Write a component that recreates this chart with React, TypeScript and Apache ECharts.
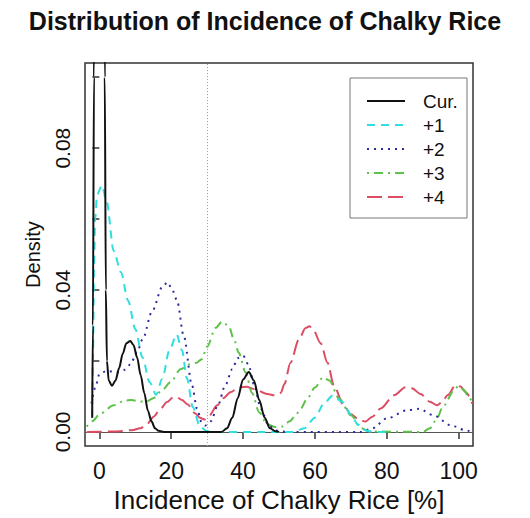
import { useEffect, useRef } from "react";
import * as echarts from "echarts";

// Axis ticks and labelled values
const xTicks = [0, 20, 40, 60, 80, 100];
const yTicks = [0, 0.02, 0.04, 0.06, 0.08, 0.1];
const yLabelTicks = [0, 0.04, 0.08];
const thresholdX = 30;

// Kernel density curves: [incidence %, density]
const curDensity = [
  [-2, 0.004], [-1.8, 0.03], [-1.5, 0.1], [-1.2, 0.2], [-0.8, 0.33], [-0.4, 0.42], [0, 0.45],
  [0.4, 0.42], [0.8, 0.33], [1.2, 0.2], [1.5, 0.1], [1.8, 0.04], [2.1, 0.02], [2.6, 0.0145],
  [3.5, 0.013], [4.5, 0.0145], [5.5, 0.018], [6.5, 0.022], [7.5, 0.025], [8.6, 0.0256],
  [9.5, 0.0245], [10.5, 0.021], [11.5, 0.016], [12.5, 0.011], [13.5, 0.006], [14.5, 0.003],
  [15.5, 0.001], [16.5, 0.0003], [18, 0], [34, 0], [35.5, 0.001], [37, 0.004], [38.5, 0.0095],
  [40, 0.0148], [41.6, 0.0169], [43, 0.0145], [44.5, 0.009], [46, 0.004], [47.5, 0.001],
  [49, 0.0002], [50, 0],
];
const plus1Density = [
  [-2, 0.004], [-1.8, 0.02], [-1.5, 0.045], [-1.2, 0.06], [-0.6, 0.067], [0.7, 0.0695],
  [2, 0.065], [4, 0.051], [6, 0.045], [8, 0.037], [10, 0.029], [12, 0.021], [14, 0.014],
  [15.8, 0.0105], [17.5, 0.015], [19.5, 0.023], [21.5, 0.0275], [23, 0.023], [24.4, 0.015],
  [26, 0.007], [28, 0.0015], [30, 0.0002], [32, 0], [54, 0], [57, 0.001], [60, 0.004],
  [62.5, 0.008], [65, 0.0103], [67.5, 0.0085], [70, 0.005], [72, 0.002], [74, 0.0005],
  [76, 0], [80, 0],
];
const plus2Density = [
  [-2.2, 0.008], [-1, 0.013], [0, 0.0163], [2, 0.0172], [5, 0.0168], [7, 0.0175], [8.6, 0.019],
  [10.5, 0.0225], [12, 0.026], [14.7, 0.034], [17.5, 0.0408], [19, 0.0422], [20.3, 0.04],
  [21.6, 0.0371], [23.5, 0.027], [25.8, 0.013], [27.2, 0.0065], [28.5, 0.0025], [29.5, 0.0018],
  [31, 0.003], [33, 0.0075], [35, 0.013], [37, 0.0177], [38.5, 0.0208], [40, 0.0215],
  [41.5, 0.019], [43, 0.0135], [45, 0.0065], [47, 0.002], [49, 0.0004], [52, 0], [73, 0],
  [76, 0.001], [80, 0.0038], [85.7, 0.0061], [89, 0.0065], [93, 0.0047], [97.8, 0.0019],
  [101.5, 0.0006], [103, 0.0002],
];
const plus3Density = [
  [-3.5, 0.0015], [-2, 0.003], [0.3, 0.0052], [4, 0.0075], [7, 0.0088], [9, 0.009], [11, 0.0086],
  [13, 0.0085], [15, 0.0095], [17.5, 0.0118], [19.8, 0.014], [22.6, 0.0177], [25, 0.019],
  [27, 0.0195], [28.5, 0.0205], [30, 0.024], [32.3, 0.0293], [34.2, 0.0311], [36, 0.0298],
  [37.5, 0.026], [38.8, 0.0223], [40.7, 0.0168], [42.5, 0.011], [44.5, 0.0055], [46.7, 0.0022],
  [49, 0.0014], [51, 0.0015], [53, 0.003], [54.5, 0.0045], [56, 0.0065], [57.8, 0.0093],
  [60, 0.0125], [62.3, 0.0154], [64, 0.0145], [66.7, 0.0094], [70, 0.0047], [73, 0.001],
  [75, 0.0001], [90, 0], [92, 0.001], [93.5, 0.003], [95.9, 0.0075], [98.7, 0.0117],
  [100, 0.013], [101.5, 0.0118], [102.5, 0.0103], [104, 0.0078],
];
const plus4Density = [
  [-3.5, 0], [5, 0.0001], [9, 0.0005], [11.4, 0.001], [13.5, 0.0025], [15.1, 0.0043],
  [17, 0.0065], [18.8, 0.0084], [20.5, 0.0097], [21.5, 0.0098], [23, 0.009], [24.5, 0.0078],
  [26.7, 0.0052], [28, 0.004], [29.2, 0.0035], [30.5, 0.0045], [32.8, 0.0075], [34.5, 0.0095],
  [36.5, 0.0112], [39, 0.0126], [41, 0.0127], [43, 0.0121], [46.7, 0.0107], [49, 0.0103],
  [50.5, 0.011], [51.5, 0.0135], [53.2, 0.0195], [55.5, 0.026], [57.4, 0.0293], [58.5, 0.0298],
  [59.5, 0.0288], [61.6, 0.025], [63.5, 0.0195], [65.3, 0.013], [68, 0.0075], [70, 0.005],
  [71.8, 0.0038], [74, 0.0029], [76, 0.0043], [78.3, 0.0066], [82, 0.0103], [85.2, 0.0126],
  [87, 0.0123], [89.4, 0.0107], [92, 0.0085], [94, 0.0075], [95.5, 0.0085], [96.9, 0.0103],
  [99.2, 0.0132], [100.5, 0.0128], [102, 0.0112], [103.8, 0.008],
];

const seriesNames = ["Cur.", "+1", "+2", "+3", "+4"];
const seriesData = [curDensity, plus1Density, plus2Density, plus3Density, plus4Density];
const seriesColors = ["#111111", "#2fdede", "#2b2ba0", "#5cc24a", "#dc4c62"];
const seriesDash: (number[] | null)[] = [null, [8, 6], [2, 5], [2, 5, 9, 5], [15, 6]];

const FONT = "'Liberation Sans', Arial, Helvetica, sans-serif";

// Legend box placement (pixels)
const LEGEND_BOX = { x: 350, y: 78, width: 117, height: 140 };
const LEGEND_LINE_X = [367, 405];
const LEGEND_TEXT_X = 423;
const LEGEND_FIRST_Y = 101;
const LEGEND_ROW = 24;

export default function App() {
  const ref = useRef<HTMLDivElement>(null);

  useEffect(() => {
    if (!ref.current) return;
    const chart = echarts.init(ref.current, null, { renderer: "svg" });

    const series: any[] = seriesNames.map((name, i) => ({
      name,
      type: "line",
      data: seriesData[i],
      showSymbol: false,
      symbol: "none",
      smooth: 0.3,
      smoothMonotone: "x",
      clip: true,
      z: 10 - i,
      lineStyle: {
        color: seriesColors[i],
        width: 2,
        type: seriesDash[i] ?? "solid",
      },
    }));

    // reference lines: zero density and the 30 % threshold
    series[0].markLine = {
      silent: true,
      symbol: ["none", "none"],
      label: { show: false },
      data: [
        { yAxis: 0, lineStyle: { color: "#555555", width: 1, type: "solid" } },
        { xAxis: thresholdX, lineStyle: { color: "#ea7088", width: 1, type: [1, 2] } },
      ],
    };

    // key: box, line samples and names
    const legendItems: any[] = [];
    seriesNames.forEach((name, i) => {
      const y = LEGEND_FIRST_Y + i * LEGEND_ROW;
      legendItems.push({
        type: "line",
        shape: { x1: LEGEND_LINE_X[0], y1: y, x2: LEGEND_LINE_X[1], y2: y },
        style: {
          stroke: seriesColors[i],
          lineWidth: 2,
          lineDash: seriesDash[i] ?? undefined,
        },
        z: 51,
      });
      legendItems.push({
        type: "text",
        x: LEGEND_TEXT_X,
        y,
        style: {
          text: name,
          fontFamily: FONT,
          fontSize: 19,
          fill: "#111",
          verticalAlign: "middle",
        },
        z: 51,
      });
    });

    chart.setOption({
      animation: false,
      backgroundColor: "#ffffff",
      textStyle: { fontFamily: FONT },
      title: {
        text: "Distribution of Incidence of Chalky Rice",
        left: "center",
        top: 8,
        padding: [0, 0, 0, 8],
        textStyle: { fontFamily: FONT, fontSize: 25, fontWeight: "bold", color: "#111" },
      },
      graphic: [
        {
          type: "rect",
          shape: { ...LEGEND_BOX },
          style: { fill: "#ffffff", stroke: "#777777", lineWidth: 1 },
          z: 50,
        },
        ...legendItems,
      ],
      grid: {
        left: 85,
        top: 63,
        width: 388,
        height: 388,
        show: true,
        borderColor: "#333333",
        borderWidth: 1.5,
        backgroundColor: "transparent",
      },
      xAxis: {
        type: "value",
        min: -4,
        max: 104,
        name: "Incidence of Chalky Rice [%]",
        nameLocation: "middle",
        nameGap: 40,
        nameTextStyle: { fontFamily: FONT, fontSize: 26, color: "#111" },
        axisLine: { show: false },
        splitLine: { show: false },
        axisTick: {
          show: true,
          length: 7,
          customValues: xTicks,
          lineStyle: { color: "#333", width: 1.5 },
        },
        axisLabel: {
          customValues: xTicks,
          margin: 13,
          fontFamily: FONT,
          fontSize: 23,
          color: "#111",
          formatter: (v: number) => String(v),
        },
      },
      yAxis: {
        type: "value",
        min: -0.004,
        max: 0.104,
        name: "Density",
        nameLocation: "middle",
        nameGap: 42,
        nameRotate: 90,
        nameTextStyle: { fontFamily: FONT, fontSize: 20, color: "#111" },
        axisLine: { show: false },
        splitLine: { show: false },
        axisTick: {
          show: true,
          length: 7,
          customValues: yTicks,
          lineStyle: { color: "#333", width: 1.5 },
        },
        axisLabel: {
          customValues: yLabelTicks,
          rotate: 90,
          margin: 12,
          fontFamily: FONT,
          fontSize: 21,
          color: "#111",
          formatter: (v: number) => v.toFixed(2),
        },
      },
      series,
    });

    return () => chart.dispose();
  }, []);

  return (
    <div
      ref={ref}
      style={{ position: "absolute", left: 0, top: 0, width: 530, height: 518 }}
    />
  );
}
